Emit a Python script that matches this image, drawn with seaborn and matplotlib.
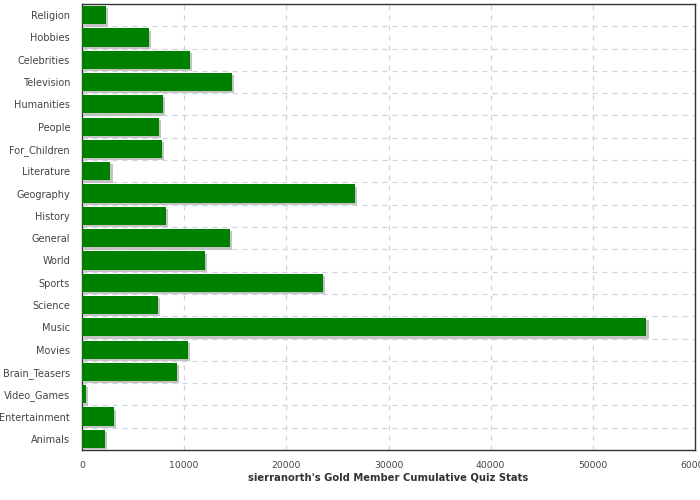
import numpy as np
import pandas as pd
import matplotlib
matplotlib.use('Agg')
import matplotlib.pyplot as plt
import matplotlib.patheffects as pe
from matplotlib.ticker import FixedLocator
import seaborn as sns

categories = ['Religion', 'Hobbies', 'Celebrities', 'Television', 'Humanities',
              'People', 'For_Children', 'Literature', 'Geography', 'History',
              'General', 'World', 'Sports', 'Science', 'Music', 'Movies',
              'Brain_Teasers', 'Video_Games', 'Entertainment', 'Animals']
scores = [2320, 6540, 10560, 14670, 7910,
          7520, 7810, 2780, 26730, 8200,
          14480, 12030, 23600, 7420, 55230, 10360,
          9290, 360, 3110, 2230]
x_ticks = [0, 10000, 20000, 30000, 40000, 50000, 60000]
x_label = "sierranorth's Gold Member Cumulative Quiz Stats"

df = pd.DataFrame({'category': categories, 'score': scores})

sns.set_style('white')
plt.rcParams['font.family'] = ['DejaVu Sans']

fig = plt.figure(figsize=(7, 5), dpi=100)
ax = fig.add_axes([0.117, 0.1, 0.876, 0.892])

sns.barplot(data=df, x='score', y='category', orient='h', color='#008000',
            saturation=1, width=0.82, ax=ax, zorder=3)
for bar in ax.patches:
    bar.set_linewidth(0)
    bar.set_path_effects([pe.SimplePatchShadow(offset=(1.6, -1.6),
                                               shadow_rgbFace='#c4c4c4',
                                               alpha=1.0),
                          pe.Normal()])

n = len(categories)
ax.set_xlim(0, 60000)
ax.set_ylim(n - 0.5, -0.5)
ax.set_xticks(x_ticks)
ax.set_xticklabels([str(t) for t in x_ticks])
ax.yaxis.set_minor_locator(FixedLocator(np.arange(n + 1) - 0.5))

grid_kw = dict(color='#cdd5dc', linestyle=(0, (4, 4)), linewidth=0.9)
ax.grid(False)
ax.xaxis.grid(True, which='major', **grid_kw)
ax.yaxis.grid(True, which='minor', **grid_kw)
ax.set_axisbelow(True)

ax.tick_params(axis='x', which='major', direction='out', length=4,
               width=1, color='#333333', labelsize=6.7, labelcolor='#444444',
               pad=4)
ax.tick_params(axis='y', which='major', length=0, labelsize=7,
               labelcolor='#444444', pad=8.5)
ax.tick_params(axis='y', which='minor', direction='out', length=7,
               width=1, color='#333333')

for side in ['left', 'bottom', 'top', 'right']:
    ax.spines[side].set_visible(True)
    ax.spines[side].set_color('#333333')
    ax.spines[side].set_linewidth(1)

ax.set_ylabel('')
ax.set_xlabel(x_label, fontsize=7.2, fontweight='bold', color='#333333',
              labelpad=2)

fig.savefig('out.png', dpi=100)
plt.close()
